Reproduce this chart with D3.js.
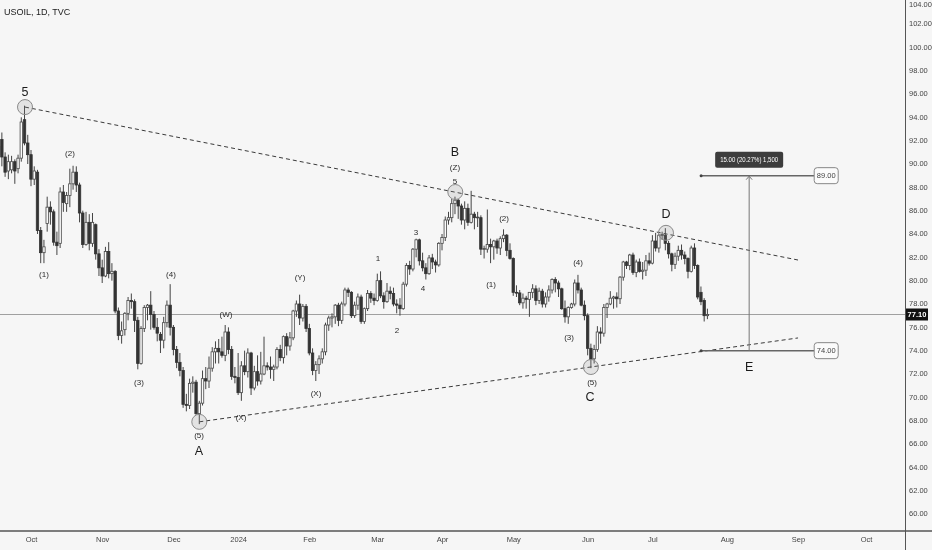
<!DOCTYPE html>
<html><head><meta charset="utf-8">
<script src="https://cdn.jsdelivr.net/npm/d3@7"></script>
<style>html,body{margin:0;padding:0;background:#f6f6f6;}svg{display:block;will-change:transform;transform:translateZ(0);}text{-webkit-font-smoothing:antialiased;}</style>
</head><body>
<svg id="c" width="932" height="550"></svg>
<script>
// ---------- DATA ----------
const title = "USOIL, 1D, TVC";
const firstBar = -10; // bar index of the first element (0 = 2 Oct 2023)
const dates = ["2023-09-18","2023-09-19","2023-09-20","2023-09-21","2023-09-22","2023-09-25","2023-09-26","2023-09-27","2023-09-28","2023-09-29",
"2023-10-02","2023-10-03","2023-10-04","2023-10-05","2023-10-06","2023-10-09","2023-10-10","2023-10-11","2023-10-12","2023-10-13","2023-10-16","2023-10-17","2023-10-18","2023-10-19","2023-10-20","2023-10-23","2023-10-24","2023-10-25","2023-10-26","2023-10-27","2023-10-30","2023-10-31",
"2023-11-01","2023-11-02","2023-11-03","2023-11-06","2023-11-07","2023-11-08","2023-11-09","2023-11-10","2023-11-13","2023-11-14","2023-11-15","2023-11-16","2023-11-17","2023-11-20","2023-11-21","2023-11-22","2023-11-23","2023-11-24","2023-11-27","2023-11-28","2023-11-29","2023-11-30",
"2023-12-01","2023-12-04","2023-12-05","2023-12-06","2023-12-07","2023-12-08","2023-12-11","2023-12-12","2023-12-13","2023-12-14","2023-12-15","2023-12-18","2023-12-19","2023-12-20","2023-12-21","2023-12-22","2023-12-26","2023-12-27","2023-12-28","2023-12-29",
"2024-01-02","2024-01-03","2024-01-04","2024-01-05","2024-01-08","2024-01-09","2024-01-10","2024-01-11","2024-01-12","2024-01-15","2024-01-16","2024-01-17","2024-01-18","2024-01-19","2024-01-22","2024-01-23","2024-01-24","2024-01-25","2024-01-26","2024-01-29","2024-01-30","2024-01-31",
"2024-02-01","2024-02-02","2024-02-05","2024-02-06","2024-02-07","2024-02-08","2024-02-09","2024-02-12","2024-02-13","2024-02-14","2024-02-15","2024-02-16","2024-02-19","2024-02-20","2024-02-21","2024-02-22","2024-02-23","2024-02-26","2024-02-27","2024-02-28","2024-02-29",
"2024-03-01","2024-03-04","2024-03-05","2024-03-06","2024-03-07","2024-03-08","2024-03-11","2024-03-12","2024-03-13","2024-03-14","2024-03-15","2024-03-18","2024-03-19","2024-03-20","2024-03-21","2024-03-22","2024-03-25","2024-03-26","2024-03-27","2024-03-28",
"2024-04-01","2024-04-02","2024-04-03","2024-04-04","2024-04-05","2024-04-08","2024-04-09","2024-04-10","2024-04-11","2024-04-12","2024-04-15","2024-04-16","2024-04-17","2024-04-18","2024-04-19","2024-04-22","2024-04-23","2024-04-24","2024-04-25","2024-04-26","2024-04-29","2024-04-30",
"2024-05-01","2024-05-02","2024-05-03","2024-05-06","2024-05-07","2024-05-08","2024-05-09","2024-05-10","2024-05-13","2024-05-14","2024-05-15","2024-05-16","2024-05-17","2024-05-20","2024-05-21","2024-05-22","2024-05-23","2024-05-24","2024-05-27","2024-05-28","2024-05-29","2024-05-30","2024-05-31",
"2024-06-03","2024-06-04","2024-06-05","2024-06-06","2024-06-07","2024-06-10","2024-06-11","2024-06-12","2024-06-13","2024-06-14","2024-06-17","2024-06-18","2024-06-19","2024-06-20","2024-06-21","2024-06-24","2024-06-25","2024-06-26","2024-06-27","2024-06-28",
"2024-07-01","2024-07-02","2024-07-03","2024-07-04","2024-07-05","2024-07-08","2024-07-09","2024-07-10","2024-07-11","2024-07-12","2024-07-15","2024-07-16","2024-07-17","2024-07-18","2024-07-19","2024-07-22","2024-07-23","2024-07-24"];
const opens = [90.8,92.1,90.6,89.4,89.5,90.2,89.6,90.5,93.8,91.8,
90.8,88.7,89.3,84.3,82.4,84.9,86.3,85.9,83.3,83.2,87.6,86.6,87.3,88.3,89.3,88.2,85.8,83.1,85.0,83.2,84.8,82.3,
81.1,80.4,82.5,80.6,80.8,77.4,75.3,75.8,77.2,78.3,78.2,76.6,72.9,75.9,77.7,77.9,77.1,76.0,75.4,74.9,76.4,77.9,
76.0,74.1,73.0,72.3,69.4,69.3,71.2,71.3,68.6,69.5,71.6,71.4,72.5,73.9,74.2,73.9,73.6,75.6,74.1,71.8,
71.7,70.4,72.7,72.2,73.8,70.8,72.2,71.4,72.0,72.7,72.6,72.4,72.6,74.1,73.4,75.2,74.4,75.1,77.4,78.0,76.8,77.8,
75.9,73.8,72.3,72.8,73.3,73.9,76.2,76.8,76.9,77.9,76.6,78.0,79.2,79.0,77.0,77.9,78.6,76.5,77.6,78.9,78.5,
78.3,80.0,78.7,78.2,79.1,78.9,78.0,77.9,77.6,79.7,81.3,81.0,82.7,83.5,81.7,81.1,80.6,81.95,81.6,81.35,
83.2,83.7,85.2,85.4,86.6,86.9,86.4,85.2,86.2,85.0,85.7,85.4,85.4,82.7,82.7,83.1,82.9,83.4,82.8,83.6,83.9,82.6,
81.9,79.0,78.95,78.1,78.5,78.4,79.0,79.3,78.3,79.1,78.0,78.6,79.2,80.1,79.8,79.3,77.6,76.9,77.7,78.0,79.8,79.2,77.9,
77.0,74.2,73.3,74.1,75.6,75.5,77.7,78.0,78.5,78.6,78.45,80.3,81.6,81.3,82.2,80.7,81.6,80.8,80.9,81.7,
81.5,83.4,82.8,83.9,83.9,83.2,82.3,81.4,82.1,82.6,82.2,81.9,80.8,82.8,81.3,79.0,78.3,77.0];
const highs = [92.4,92.7,91.0,90.8,90.7,90.4,90.8,94.0,95.0,92.5,
91.2,89.8,89.5,84.6,83.5,87.2,86.8,86.1,84.2,88.0,88.2,87.6,89.6,89.85,89.8,88.4,86.0,85.9,85.7,85.8,84.9,82.7,
81.8,82.9,83.3,81.5,80.9,77.7,76.5,77.3,78.6,78.9,78.4,76.9,76.1,77.9,78.0,79.1,77.4,76.8,75.6,76.9,78.3,79.7,
76.2,74.4,73.8,72.6,70.3,71.6,71.8,71.5,69.7,72.3,72.6,73.5,74.3,74.8,75.0,75.2,76.2,76.0,74.4,72.6,
73.8,73.1,74.0,74.2,73.9,72.7,73.6,73.9,75.2,73.0,73.5,72.8,74.3,74.5,75.3,75.5,75.6,77.5,78.3,78.8,78.0,78.0,
76.3,74.2,73.1,73.6,74.2,76.4,77.0,77.2,78.0,78.1,78.2,79.4,79.4,79.1,78.2,78.9,78.8,77.7,79.2,79.1,78.9,
80.6,80.8,79.0,79.8,79.5,79.4,78.4,78.5,79.9,81.5,81.7,82.8,83.6,83.6,82.4,81.5,82.2,82.3,81.8,83.3,
84.0,85.5,85.9,87.0,87.2,87.0,86.6,86.8,86.6,87.7,85.9,85.9,85.6,83.0,86.1,83.6,83.5,83.6,83.8,84.4,84.0,83.2,
82.0,79.6,79.2,78.9,78.7,79.0,79.7,79.6,79.4,79.3,79.0,79.6,80.2,80.3,80.0,79.4,78.3,77.8,78.1,80.1,80.5,79.4,78.3,
77.2,74.6,74.5,76.1,76.0,78.0,78.1,79.1,78.7,79.0,80.4,81.7,81.7,82.3,82.4,81.8,81.9,81.6,82.2,82.4,
83.9,84.1,84.0,84.2,84.5,83.4,82.4,82.4,83.0,83.1,82.5,82.0,83.0,83.2,81.4,79.5,78.5,77.6];
const lows = [90.4,89.8,88.9,88.7,89.2,88.3,89.2,90.2,91.6,90.0,
88.1,88.2,84.0,81.5,81.5,84.2,84.8,83.0,82.2,82.8,85.9,85.9,86.3,87.8,87.6,85.0,82.8,83.0,82.6,82.9,81.8,80.4,
79.8,80.3,80.2,80.0,77.2,74.9,74.6,75.3,76.6,77.6,75.6,72.4,72.8,75.6,76.6,75.8,75.8,74.8,73.8,74.2,76.0,75.3,
73.6,72.5,71.8,69.1,68.8,69.0,70.4,68.5,67.7,69.3,70.7,70.8,72.2,72.9,72.9,73.4,73.1,73.7,71.5,71.2,
70.2,69.7,71.9,71.7,70.2,70.6,71.0,71.1,71.9,72.3,71.6,71.4,72.4,73.1,72.9,73.6,74.0,74.9,76.9,76.2,76.5,75.6,
73.6,71.9,71.4,72.0,72.9,73.6,75.7,76.0,76.3,76.1,76.3,77.8,78.6,76.8,76.8,77.5,76.3,76.3,77.4,78.1,77.9,
78.2,78.5,77.6,78.1,78.4,77.8,77.2,77.0,77.5,79.5,80.5,80.8,82.0,81.3,80.8,80.1,80.5,81.0,80.7,81.2,
82.6,83.4,84.8,85.0,85.7,85.3,84.8,84.4,84.7,84.9,84.4,84.6,82.2,81.9,82.4,81.5,81.8,82.3,82.2,83.3,82.1,81.8,
78.7,78.6,77.9,77.6,77.6,76.9,78.5,77.9,78.0,77.7,77.7,78.2,78.9,79.0,78.6,77.5,76.4,76.3,77.6,77.8,78.9,77.8,76.6,
73.6,72.5,72.9,73.9,74.6,75.2,76.8,77.9,77.6,77.7,78.0,80.0,81.0,80.9,80.5,80.3,80.7,80.1,80.4,81.3,
81.4,82.5,82.4,83.5,82.6,81.9,80.8,81.0,81.7,81.8,81.4,80.2,80.7,81.0,78.4,77.9,76.5,76.7];
const closes = [91.5,90.6,89.3,90.2,90.2,89.4,90.5,93.6,91.8,90.8,
88.7,89.4,84.3,82.4,82.9,86.3,85.9,83.3,83.0,87.6,86.7,87.3,88.3,89.3,88.2,85.8,83.1,85.0,83.2,85.0,82.3,81.1,
80.4,82.5,80.6,80.8,77.4,75.3,75.7,77.2,78.3,78.2,76.6,72.9,75.9,77.7,77.9,77.1,76.0,75.5,74.9,76.4,77.9,76.0,
74.1,73.0,72.3,69.4,69.3,71.2,71.3,68.6,69.5,71.6,71.4,72.5,73.9,74.2,73.9,73.6,75.6,74.1,71.8,71.7,
70.4,72.7,72.2,73.8,70.8,72.2,71.4,72.0,72.7,72.6,72.4,72.6,74.1,73.4,75.2,74.4,75.1,77.4,78.0,76.8,77.8,75.9,
73.8,72.3,72.8,73.3,73.9,76.2,76.8,76.9,77.9,76.6,78.0,79.2,79.0,77.0,77.9,78.6,76.5,77.6,78.9,78.5,78.3,
80.0,78.7,78.2,79.1,78.9,78.0,77.9,77.6,79.7,81.3,81.0,82.7,83.5,81.7,81.1,80.6,81.95,81.6,81.35,83.2,
83.7,85.2,85.4,86.6,86.9,86.4,85.2,86.2,85.0,85.7,85.4,85.45,82.7,82.75,83.1,82.9,83.4,82.8,83.6,83.9,82.6,81.9,
79.0,78.95,78.1,78.5,78.4,79.0,79.3,78.3,79.1,78.0,78.6,79.2,80.1,79.8,79.3,77.6,76.9,77.7,78.0,79.8,79.2,77.9,77.0,
74.2,73.25,74.1,75.6,75.5,77.7,78.0,78.5,78.6,78.45,80.3,81.6,81.3,82.2,80.7,81.6,80.8,80.9,81.7,81.5,
83.4,82.8,83.9,83.95,83.2,82.3,81.4,82.1,82.6,82.2,81.9,80.8,82.8,81.3,78.6,78.2,77.0,77.1];
const lastPrice = 77.10;

const priceTicks = d3.range(60, 105, 2);
const monthLabels = ["Oct","Nov","Dec","2024","Feb","Mar","Apr","May","Jun","Jul","Aug","Sep","Oct"];
const monthBars   = [0,22,44,64,86,107,127,149,172,192,215,237,258];

// trendlines [bar, price]
const upperLine = [[-1.85, 94.88],[237.0, 81.77]];
const lowerLine = [[52.0, 67.9],[237.0, 75.09]];
// wave pivots circled
const pivots = [[-1.85, 94.88],[52.0, 67.9],[131.1, 87.6],[173.0, 72.6],[196.2, 84.1]];
// wave labels [text, bar, price]
const bigLabels = [["5",-1.85,96.17],["B",131.0,91.03],["D",196.2,85.71],["A",51.9,65.4],["C",172.7,70.03],["E",221.9,72.6]];
const smallLabels = [["(Z)",131.0,89.74],["5",131.0,88.54],["(2)",12.05,90.86],["(1)",4.02,80.57],["(3)",33.37,71.23],["(4)",43.26,80.57],
["(W)",60.26,77.06],["(X)",64.89,68.23],["(Y)",83.13,80.23],["(X)",88.07,70.37],["(5)",51.92,66.77],["1",107.23,81.86],["2",113.1,75.77],
["3",118.97,84.09],["4",121.14,79.37],["(2)",146.17,85.37],["(1)",142.15,79.71],["(4)",169.04,81.6],["(3)",166.25,75.17],["(5)",173.36,71.31]];
// projection tool
const targetHigh = 89.00, targetLow = 74.00;
const toolStartBar = 207.05, toolEndBar = 242.0, toolMidBar = 221.9;
const toolText = "15.00 (20.27%) 1,500";

// ---------- CHART ----------
const W = 932, H = 550, plotR = 905, plotB = 531;
const svg = d3.select("#c");
const font = "'Liberation Sans', Arial, sans-serif";
svg.append("rect").attr("width",W).attr("height",H).attr("fill","#f6f6f6");

const x = d3.scaleLinear().domain([0, 258]).range([31, 866]);
const y = d3.scaleLinear().domain([60, 104]).range([514, 0.67]);

const bars = dates.map((d,k)=>({d, i:k+firstBar, o:opens[k], h:highs[k], l:lows[k], c:closes[k]}));

const plot = svg.append("g");
plot.append("clipPath").attr("id","clip").append("rect").attr("x",0).attr("y",0).attr("width",plotR).attr("height",plotB);
const pg = plot.append("g").attr("clip-path","url(#clip)");

// last price line
pg.append("line").attr("x1",0).attr("x2",plotR).attr("y1",y(lastPrice)).attr("y2",y(lastPrice))
  .attr("stroke","#a0a0a0").attr("stroke-width",1);

// trendlines
const line = d3.line().x(d=>x(d[0])).y(d=>y(d[1]));
[upperLine, lowerLine].forEach(L=>{
  pg.append("path").attr("d",line(L)).attr("fill","none").attr("stroke","#3a3a3a")
    .attr("stroke-width",1).attr("stroke-dasharray","4,3");
});

// candles
const bw = 2.4;
const cg = pg.append("g");
cg.selectAll("line.w").data(bars).join("line").attr("class","w")
  .attr("x1",d=>x(d.i)).attr("x2",d=>x(d.i)).attr("y1",d=>y(d.h)).attr("y2",d=>y(d.l))
  .attr("stroke","#444").attr("stroke-width",1);
cg.selectAll("rect.b").data(bars).join("rect").attr("class","b")
  .attr("x",d=>x(d.i)-bw/2).attr("width",bw)
  .attr("y",d=>y(Math.max(d.o,d.c)))
  .attr("height",d=>Math.max(0.8, Math.abs(y(d.o)-y(d.c))))
  .attr("fill",d=>d.c>=d.o?"#fbfbfb":"#333")
  .attr("stroke",d=>d.c>=d.o?"#484848":"#333").attr("stroke-width",0.8);

// pivot circles
pg.selectAll("circle.p").data(pivots).join("circle").attr("class","p")
  .attr("cx",d=>x(d[0])).attr("cy",d=>y(d[1])).attr("r",7.5)
  .attr("fill","rgba(140,140,140,0.18)").attr("stroke","#8a8a8a").attr("stroke-width",1);

// labels
pg.selectAll("text.big").data(bigLabels).join("text").attr("class","big")
  .attr("x",d=>x(d[1])).attr("y",d=>y(d[2])).attr("text-anchor","middle").attr("dominant-baseline","central")
  .attr("font-family",font).attr("font-size",12.5).attr("fill","#1a1a1a").text(d=>d[0]);
pg.selectAll("text.sm").data(smallLabels).join("text").attr("class","sm")
  .attr("x",d=>x(d[1])).attr("y",d=>y(d[2])).attr("text-anchor","middle").attr("dominant-baseline","central")
  .attr("font-family",font).attr("font-size",8).attr("fill","#2a2a2a").text(d=>d[0]);

// projection tool
const tg = pg.append("g");
[targetHigh, targetLow].forEach(p=>{
  tg.append("line").attr("x1",x(toolStartBar)).attr("x2",x(toolEndBar)).attr("y1",y(p)).attr("y2",y(p))
    .attr("stroke","#666").attr("stroke-width",1.5);
  tg.append("circle").attr("cx",x(toolStartBar)).attr("cy",y(p)).attr("r",1.5).attr("fill","#444");
  const bx = x(toolEndBar);
  tg.append("rect").attr("x",bx).attr("y",y(p)-8).attr("width",24).attr("height",16).attr("rx",3)
    .attr("fill","#fbfbfb").attr("stroke","#888").attr("stroke-width",1);
  tg.append("text").attr("x",bx+12).attr("y",y(p)).attr("text-anchor","middle").attr("dominant-baseline","central")
    .attr("font-family",font).attr("font-size",7.5).attr("fill","#444").text(d3.format(".2f")(p));
});
tg.append("line").attr("x1",x(toolMidBar)).attr("x2",x(toolMidBar)).attr("y1",y(targetLow)).attr("y2",y(targetHigh))
  .attr("stroke","#777").attr("stroke-width",1);
tg.append("path").attr("d",`M${x(toolMidBar)-3},${y(targetHigh)+4}L${x(toolMidBar)},${y(targetHigh)+0.5}L${x(toolMidBar)+3},${y(targetHigh)+4}`)
  .attr("fill","none").attr("stroke","#777").attr("stroke-width",1);
tg.append("rect").attr("x",x(toolMidBar)-34).attr("y",y(targetHigh)-24).attr("width",68).attr("height",16).attr("rx",2)
  .attr("fill","#3d3d3d");
tg.append("text").attr("x",x(toolMidBar)).attr("y",y(targetHigh)-16).attr("text-anchor","middle").attr("dominant-baseline","central")
  .attr("font-family",font).attr("font-size",7.5).attr("fill","#fff")
  .attr("textLength",58).attr("lengthAdjust","spacingAndGlyphs").text(toolText);

// title
svg.append("text").attr("x",4).attr("y",15).attr("font-family",font).attr("font-size",9).attr("fill","#1a1a1a").text(title);

// axes frame
svg.append("line").attr("x1",plotR+0.5).attr("x2",plotR+0.5).attr("y1",0).attr("y2",H).attr("stroke","#555").attr("stroke-width",1);
svg.append("line").attr("x1",0).attr("x2",W).attr("y1",plotB).attr("y2",plotB).attr("stroke","#555").attr("stroke-width",1.5);

// y axis
const yAxis = d3.axisRight(y).tickValues(priceTicks).tickSize(0).tickPadding(0).tickFormat(d3.format(".2f"));
const yg = svg.append("g").attr("transform",`translate(${plotR+4},0)`).call(yAxis);
yg.select(".domain").remove();
yg.selectAll(".tick").attr("transform",d=>`translate(0,${Math.max(5, y(d))})`);
yg.selectAll("text").attr("font-family",font).attr("font-size",7.5).attr("fill","#444");

// last price tag
svg.append("rect").attr("x",plotR+1).attr("y",y(lastPrice)-6).attr("width",22).attr("height",12).attr("fill","#111");
svg.append("text").attr("x",plotR+12).attr("y",y(lastPrice)).attr("text-anchor","middle").attr("dominant-baseline","central")
  .attr("font-family",font).attr("font-size",7.5).attr("font-weight","bold").attr("fill","#fff").text(d3.format(".2f")(lastPrice));

// x axis
const xAxis = d3.axisBottom(x).tickValues(monthBars).tickSize(0).tickPadding(0).tickFormat((d,k)=>monthLabels[k]);
const xg = svg.append("g").attr("transform",`translate(0,${plotB+6})`).call(xAxis);
xg.select(".domain").remove();
xg.selectAll("text").attr("font-family",font).attr("font-size",7.5).attr("fill","#444");
</script>
</body></html>
